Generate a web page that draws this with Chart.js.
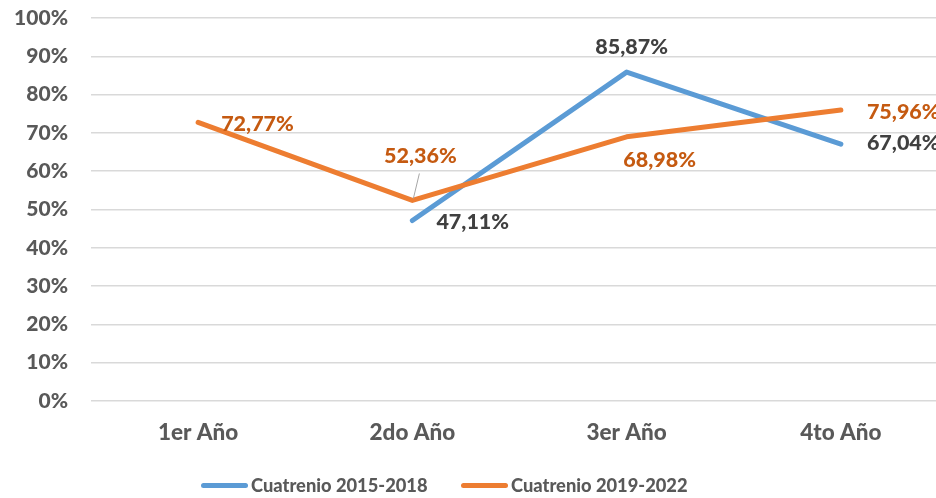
<!DOCTYPE html>
<html>
<head>
<meta charset="utf-8">
<script src="https://cdn.jsdelivr.net/npm/chart.js@4"></script>
<style>
  html, body { margin: 0; padding: 0; background: #fff; overflow: hidden; }
  #wrap { position: relative; width: 936px; height: 498px; overflow: hidden; }
  #box { position: absolute; left: 0; top: 0; width: 950px; height: 498px; }
  #legend { position: absolute; top: 474px; left: 201px; height: 26px; width: 600px;
            font: 900 18.3px Lato, sans-serif; color: #595959; white-space: nowrap; }
  #legend span.item { position: absolute; top: 0; }
  #legend i { display: inline-block; width: 47px; height: 5px; border-radius: 3px;
              vertical-align: middle; margin-right: 3px; position: relative; top: -2px; }
</style>
</head>
<body>
<div id="wrap">
  <div id="box"><canvas id="chart"></canvas></div>
  <div id="legend"></div>
</div>
<script>
// chart data
var categories = ['1er Año', '2do Año', '3er Año', '4to Año'];
var seriesNames = ['Cuatrenio 2015-2018', 'Cuatrenio 2019-2022'];
var values2015 = [null, 47.11, 85.87, 67.04];
var values2019 = [72.77, 52.36, 68.98, 75.96];
var yTicks = [0, 10, 20, 30, 40, 50, 60, 70, 80, 90, 100];

var BLUE = '#5B9BD5';
var ORANGE = '#ED7D31';

// where each value label sits relative to its point
var labelPlace = {
    0: [null, {dx: 24, dy: 1, align: 'left'}, {dx: 5, dy: -25, align: 'center'}, {dx: 26, dy: -1, align: 'left'}],
    1: [{dx: 23, dy: 2, align: 'left'}, {dx: 8, dy: -44, align: 'center', leader: true},
        {dx: 33, dy: 23, align: 'center'}, {dx: 26, dy: 2, align: 'left'}]
};
var labelColor = {0: '#404040', 1: '#C55A11'};
var legendLeft = [0, 260];

function fmt(v) {
    return v.toFixed(2).replace('.', ',') + '%';
}

var valueLabels = {
    id: 'valueLabels',
    afterDatasetsDraw: function(chart) {
        var ctx = chart.ctx;
        ctx.save();
        ctx.font = '900 21.5px Lato, sans-serif';
        ctx.textBaseline = 'middle';
        chart.data.datasets.forEach(function(ds, i) {
            var meta = chart.getDatasetMeta(i);
            ds.data.forEach(function(v, j) {
                var p = labelPlace[i][j];
                if (v === null || !p) return;
                var pt = meta.data[j];
                var x = pt.x + p.dx, y = pt.y + p.dy;
                if (p.leader) {
                    ctx.strokeStyle = '#A6A6A6';
                    ctx.lineWidth = 1;
                    ctx.beginPath();
                    ctx.moveTo(pt.x + 1, pt.y - 2);
                    ctx.lineTo(x - 1, y + 17);
                    ctx.stroke();
                }
                ctx.fillStyle = labelColor[i];
                ctx.textAlign = p.align;
                ctx.fillText(fmt(v), x, y);
            });
        });
        ctx.restore();
    }
};

new Chart(document.getElementById('chart'), {
    type: 'line',
    data: {
        labels: categories,
        datasets: [{
            label: seriesNames[0],
            data: values2015,
            borderColor: BLUE,
            backgroundColor: BLUE,
            borderWidth: 5,
            borderCapStyle: 'round',
            borderJoinStyle: 'round',
            pointRadius: 0,
            tension: 0,
            order: 2
        }, {
            label: seriesNames[1],
            data: values2019,
            borderColor: ORANGE,
            backgroundColor: ORANGE,
            borderWidth: 5,
            borderCapStyle: 'round',
            borderJoinStyle: 'round',
            pointRadius: 0,
            tension: 0,
            order: 1
        }]
    },
    options: {
        responsive: true,
        maintainAspectRatio: false,
        animation: false,
        layout: {padding: {top: 18, right: 2, left: 0, bottom: 0}},
        plugins: {
            legend: {display: false},
            tooltip: {enabled: false}
        },
        scales: {
            x: {
                offset: true,
                grid: {display: false, drawTicks: false},
                border: {display: false},
                ticks: {
                    color: '#595959',
                    font: {family: 'Lato', size: 22.5, weight: '900'},
                    padding: 18
                },
                afterFit: function(scale) { scale.height = 97; }
            },
            y: {
                min: 0,
                max: 100,
                afterBuildTicks: function(scale) {
                    scale.ticks = yTicks.map(function(v) { return {value: v}; });
                },
                grid: {color: '#D9D9D9', lineWidth: 1.5, drawTicks: false},
                border: {display: false},
                ticks: {
                    color: '#595959',
                    font: {family: 'Lato', size: 21, weight: '900'},
                    padding: 23,
                    callback: function(v) { return v + '%'; }
                },
                afterFit: function(scale) {
                    scale.width = 91;
                    scale.paddingTop = 0;
                    scale.paddingBottom = 0;
                }
            }
        }
    },
    plugins: [valueLabels]
});

// legend below the plot
var legend = document.getElementById('legend');
[BLUE, ORANGE].forEach(function(c, i) {
    var s = document.createElement('span');
    s.className = 'item';
    s.style.left = legendLeft[i] + 'px';
    var sw = document.createElement('i');
    sw.style.background = c;
    s.appendChild(sw);
    s.appendChild(document.createTextNode(seriesNames[i]));
    legend.appendChild(s);
});
</script>
</body>
</html>
